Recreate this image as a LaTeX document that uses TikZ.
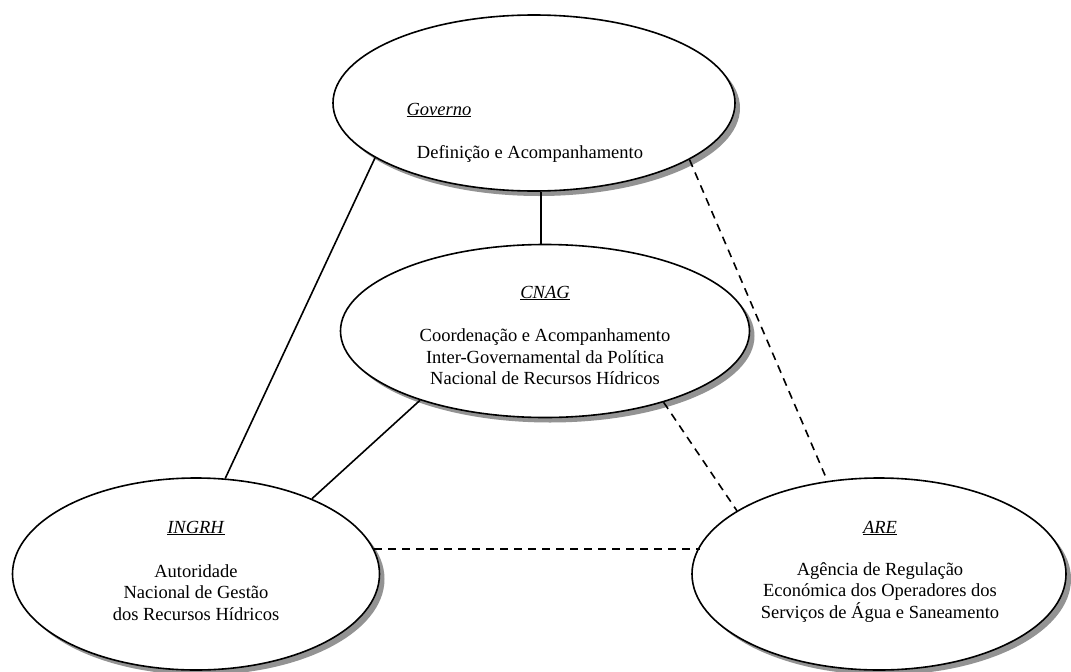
\documentclass[tikz,border=0pt]{standalone}
\usepackage{fontspec}
\setmainfont{Liberation Serif}
\usetikzlibrary{shapes.geometric,shadows,calc}
\begin{document}
\begin{tikzpicture}[x=1pt,y=-1pt,
  org/.style={ellipse, draw, line width=1.6pt, fill=white, inner sep=0pt,
    drop shadow={shadow xshift=5pt, shadow yshift=-5pt, fill=gray!85, opacity=1}},
  lbl/.style={font=\fontsize{18.5}{21.5}\selectfont, inner sep=0pt, align=center},
  link/.style={line width=1.6pt},
  dlink/.style={line width=1.6pt, dash pattern=on 8pt off 6pt}]
\useasboundingbox[fill=white] (0,0) rectangle (1071,672);
\node[org, minimum width=402pt, minimum height=176pt] (gov) at (534,103) {};
\node[org, minimum width=409pt, minimum height=173pt] (cnag) at (545,331) {};
\node[org, minimum width=367pt, minimum height=192pt] (ingrh) at (196,574) {};
\node[org, minimum width=374pt, minimum height=192pt] (are) at (879,574) {};

\node[lbl, anchor=base] (govt) at (439,115) {\underline{\textit{Governo}}};
\node[lbl, anchor=base] (govd) at (530,158) {Definição e Acompanhamento};
\node[lbl, anchor=base] (cnagt) at (545,298) {\underline{\textit{CNAG}}};
\node[lbl] (cnagd) at (545,357) {Coordenação e Acompanhamento\\Inter-Governamental da Política\\Nacional de Recursos Hídricos};
\node[lbl, anchor=base] (ingrht) at (196,533) {\underline{\textit{INGRH}}};
\node[lbl] (ingrhd) at (196,592.5) {Autoridade\\Nacional de Gestão\\dos Recursos Hídricos};
\node[lbl, anchor=base] (aret) at (880,533) {\underline{\textit{ARE}}};
\node[lbl] (ared) at (880,592.5) {Agência de Regulação\\Económica dos Operadores dos\\Serviços de Água e Saneamento};

\draw[link] (gov.199) -- (ingrh.73);
\draw[link] ($(gov.south)+(7,0)$) -- ($(cnag.north)+(-4,0)$);
\draw[dlink] (gov.340.8) -- ($(are.119.8)!6pt!(gov.340.8)$);
\draw[link] (cnag.209.4) -- (ingrh.33.2);
\draw[dlink] (cnag.329.4) -- (are.156.3);
\draw[dlink] (ingrh.8.4) -- (ingrh.8.4 -| are.171.9);
\end{tikzpicture}
\end{document}
